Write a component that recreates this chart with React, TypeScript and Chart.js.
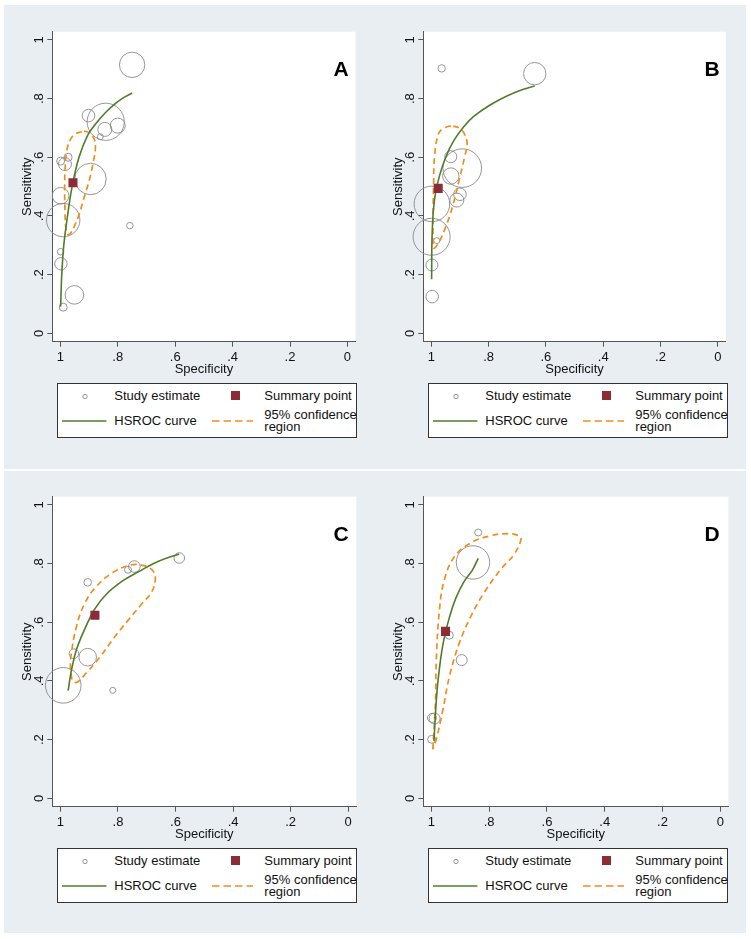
import React, { useEffect, useRef } from 'react';
import { Chart, registerables } from 'chart.js';

Chart.register(...registerables);

const FONT = "'Liberation Sans', Arial, Helvetica, sans-serif";
const GREEN = '#4e7d2b';
const ORANGE = '#f28d1c';
const MAROON = '#8c2c36';
const CIRCLE = '#8a8a8a';
const AXIS = '#555555';
const PANEL_BG = '#e8eef1';

const tickValues = [0, 0.2, 0.4, 0.6, 0.8, 1];
const tickLabels = ['0', '.2', '.4', '.6', '.8', '1'];

// ---------- Panel A ----------
const aStudySpec = [0.750, 0.902, 0.842, 0.845, 0.800, 0.861, 0.999, 0.973, 0.984, 0.895, 0.999, 0.990, 0.758, 0.999, 0.998, 0.951, 0.990];
const aStudySens = [0.915, 0.742, 0.721, 0.695, 0.708, 0.670, 0.587, 0.600, 0.577, 0.526, 0.469, 0.386, 0.367, 0.278, 0.237, 0.131, 0.089];
const aStudySize = [12.7, 6.3, 18.6, 7, 7.5, 3, 4, 4, 6.5, 15.7, 8.3, 16.7, 3.3, 3.3, 6.2, 9.3, 4];
const aSummary = [0.956, 0.513];
const aCurveSpec = [0.999, 0.995, 0.988, 0.975, 0.959, 0.935, 0.905, 0.876, 0.845, 0.815, 0.785, 0.750];
const aCurveSens = [0.091, 0.200, 0.300, 0.400, 0.500, 0.600, 0.675, 0.715, 0.750, 0.778, 0.800, 0.819];
const aRegionSpec = [0.925, 0.948, 0.965, 0.977, 0.983, 0.985, 0.984, 0.981, 0.975, 0.965, 0.950, 0.935, 0.915, 0.897, 0.884, 0.878, 0.882, 0.895, 0.910, 0.925];
const aRegionSens = [0.687, 0.680, 0.660, 0.625, 0.570, 0.500, 0.420, 0.360, 0.337, 0.340, 0.368, 0.405, 0.470, 0.530, 0.590, 0.630, 0.662, 0.680, 0.688, 0.687];

// ---------- Panel B ----------
const bStudySpec = [0.964, 0.639, 0.932, 0.892, 0.932, 0.900, 0.911, 0.998, 0.999, 0.981, 0.998, 0.997];
const bStudySens = [0.903, 0.885, 0.602, 0.563, 0.536, 0.474, 0.454, 0.441, 0.329, 0.316, 0.233, 0.125];
const bStudySize = [3.7, 11.2, 6, 19.3, 8.2, 6.3, 7, 17.8, 18.5, 3, 6, 6.3];
const bSummary = [0.976, 0.494];
const bCurveSpec = [0.999, 0.997, 0.989, 0.972, 0.949, 0.920, 0.886, 0.852, 0.795, 0.738, 0.681, 0.639];
const bCurveSens = [0.184, 0.341, 0.455, 0.535, 0.602, 0.659, 0.705, 0.739, 0.778, 0.808, 0.831, 0.843];
const bRegionSpec = [0.932, 0.955, 0.975, 0.989, 0.992, 0.994, 0.994, 0.992, 0.975, 0.954, 0.926, 0.903, 0.884, 0.875, 0.886, 0.903, 0.932];
const bRegionSens = [0.707, 0.700, 0.680, 0.600, 0.508, 0.405, 0.330, 0.290, 0.308, 0.352, 0.432, 0.522, 0.600, 0.648, 0.682, 0.700, 0.707];

// ---------- Panel C ----------
const cStudySpec = [0.587, 0.743, 0.765, 0.905, 0.953, 0.905, 0.990, 0.818];
const cStudySens = [0.819, 0.790, 0.779, 0.736, 0.493, 0.481, 0.385, 0.368];
const cStudySize = [5.3, 5.8, 3.5, 3.8, 4.8, 8.8, 17.8, 3];
const cSummary = [0.880, 0.624];
const cCurveSpec = [0.973, 0.961, 0.944, 0.916, 0.882, 0.842, 0.785, 0.729, 0.661, 0.587];
const cCurveSens = [0.367, 0.439, 0.507, 0.575, 0.643, 0.694, 0.740, 0.772, 0.807, 0.833];
const cRegionSpec = [0.960, 0.965, 0.962, 0.944, 0.916, 0.876, 0.820, 0.757, 0.706, 0.678, 0.670, 0.683, 0.717, 0.762, 0.813, 0.864, 0.910, 0.944, 0.960];
const cRegionSens = [0.405, 0.450, 0.493, 0.586, 0.663, 0.721, 0.768, 0.795, 0.792, 0.775, 0.748, 0.703, 0.663, 0.610, 0.548, 0.480, 0.427, 0.395, 0.405];

// ---------- Panel D ----------
const dStudySpec = [0.838, 0.856, 0.938, 0.895, 0.989, 0.998, 0.999];
const dStudySens = [0.906, 0.804, 0.556, 0.471, 0.272, 0.274, 0.201];
const dStudySize = [3.5, 16.7, 4, 5.5, 5.5, 4.5, 4];
const dSummary = [0.951, 0.569];
const dCurveSpec = [0.991, 0.985, 0.977, 0.960, 0.937, 0.915, 0.886, 0.858, 0.838];
const dCurveSens = [0.195, 0.303, 0.401, 0.525, 0.619, 0.683, 0.740, 0.778, 0.818];
const dRegionSpec = [0.995, 0.989, 0.985, 0.983, 0.972, 0.955, 0.920, 0.863, 0.795, 0.738, 0.698, 0.690, 0.715, 0.761, 0.818, 0.863, 0.903, 0.937, 0.960, 0.983, 0.995];
const dRegionSens = [0.167, 0.269, 0.360, 0.472, 0.643, 0.745, 0.824, 0.871, 0.895, 0.902, 0.895, 0.881, 0.830, 0.779, 0.700, 0.621, 0.530, 0.418, 0.303, 0.201, 0.167];

const legendLabels = ['Study estimate', 'Summary point', 'HSROC curve', '95% confidence', 'region'];

type PanelProps = {
  letter: string;
  left: number;
  top: number;
  studySpec: number[];
  studySens: number[];
  studySize: number[];
  summary: number[];
  curveSpec: number[];
  curveSens: number[];
  regionSpec: number[];
  regionSens: number[];
};

const W = 371;
const H = 464;

const plotBg = {
  id: 'plotBg',
  beforeDraw(chart: any) {
    const { ctx, chartArea } = chart;
    ctx.save();
    ctx.fillStyle = '#ffffff';
    ctx.fillRect(chartArea.left, chartArea.top, chartArea.right - chartArea.left, chartArea.bottom - chartArea.top);
    ctx.restore();
  },
};

function zip(xs: number[], ys: number[]) {
  return xs.map((x, i) => ({ x, y: ys[i] }));
}

function Panel(p: PanelProps) {
  const ref = useRef<HTMLCanvasElement | null>(null);
  useEffect(() => {
    const chart = new Chart(ref.current as HTMLCanvasElement, {
      type: 'scatter',
      data: {
        datasets: [
          {
            label: 'Summary point',
            data: [{ x: p.summary[0], y: p.summary[1] }],
            pointStyle: 'rect',
            pointRadius: 6.4,
            backgroundColor: MAROON,
            borderColor: MAROON,
            borderWidth: 0,
            order: 0,
          },
          {
            label: 'HSROC curve',
            data: zip(p.curveSpec, p.curveSens),
            showLine: true,
            pointRadius: 0,
            borderColor: GREEN,
            borderWidth: 1.6,
            tension: 0.4,
            order: 1,
          },
          {
            label: '95% confidence region',
            data: zip(p.regionSpec, p.regionSens),
            showLine: true,
            pointRadius: 0,
            borderColor: ORANGE,
            borderWidth: 1.7,
            borderDash: [6, 4],
            tension: 0.4,
            order: 2,
          },
          {
            label: 'Study estimate',
            data: zip(p.studySpec, p.studySens),
            pointRadius: p.studySize,
            pointHoverRadius: p.studySize,
            backgroundColor: 'rgba(0,0,0,0)',
            borderColor: CIRCLE,
            borderWidth: 0.9,
            clip: false,
            order: 3,
          },
        ] as any,
      },
      options: {
        animation: false,
        responsive: false,
        events: [],
        layout: { padding: { left: 0, top: 26.7, right: 12.7, bottom: 92.2 } },
        plugins: { legend: { display: false }, tooltip: { enabled: false } },
        scales: {
          x: {
            type: 'linear',
            min: -0.028,
            max: 1.028,
            reverse: true,
            afterBuildTicks: (s: any) => {
              s.ticks = tickValues.map((v) => ({ value: v }));
            },
            afterFit: (s: any) => {
              s.height = 35.1;
            },
            ticks: {
              callback: (_v: any, i: number) => tickLabels[i] ?? '',
              font: { family: FONT, size: 13 },
              color: '#111111',
              padding: 2.5,
              maxRotation: 0,
              minRotation: 0,
              autoSkip: false,
            },
            grid: { drawOnChartArea: false, tickLength: 5, color: AXIS, lineWidth: 1 },
            border: { display: true, color: AXIS, width: 1 },
            title: {
              display: true,
              text: 'Specificity',
              font: { family: FONT, size: 13 },
              color: '#111111',
              padding: { top: 0, bottom: 0 },
            },
          },
          y: {
            type: 'linear',
            min: -0.0286,
            max: 1.028,
            afterBuildTicks: (s: any) => {
              s.ticks = tickValues.map((v) => ({ value: v }));
            },
            afterFit: (s: any) => {
              s.width = 48.3;
            },
            ticks: {
              callback: (_v: any, i: number) => tickLabels[i] ?? '',
              font: { family: FONT, size: 13 },
              color: '#111111',
              padding: 2.5,
              minRotation: 90,
              maxRotation: 90,
              crossAlign: 'center',
              autoSkip: false,
            },
            grid: { drawOnChartArea: false, tickLength: 5, color: AXIS, lineWidth: 1 },
            border: { display: true, color: AXIS, width: 1 },
            title: {
              display: true,
              text: 'Sensitivity',
              font: { family: FONT, size: 13 },
              color: '#111111',
              padding: { top: 15.2, bottom: 0 },
            },
          },
        },
      } as any,
      plugins: [plotBg],
    });
    return () => chart.destroy();
  }, []);

  const textStyle: React.CSSProperties = {
    position: 'absolute',
    fontFamily: FONT,
    fontSize: 13,
    lineHeight: '15px',
    color: '#111',
    whiteSpace: 'nowrap',
  };

  return (
    <div style={{ position: 'absolute', left: p.left, top: p.top, width: W, height: H }}>
      <canvas ref={ref} width={W} height={H} style={{ position: 'absolute', left: 0, top: 0, width: W, height: H }} />
      <div
        style={{
          position: 'absolute',
          left: 337,
          top: 63,
          transform: 'translate(-50%, -50%)',
          fontFamily: FONT,
          fontWeight: 'bold',
          fontSize: 21,
          lineHeight: '21px',
          color: '#000',
        }}
      >
        {p.letter}
      </div>
      <div
        style={{
          position: 'absolute',
          left: 53,
          top: 378,
          width: 300,
          height: 55,
          boxSizing: 'border-box',
          border: '1px solid #333',
          background: '#fff',
        }}
      >
        <svg style={{ position: 'absolute', left: 22, top: 8 }} width={10} height={10}>
          <circle cx={5} cy={4.5} r={2.2} fill="none" stroke={CIRCLE} strokeWidth={0.9} />
        </svg>
        <div style={{ ...textStyle, left: 56.3, top: 4 }}>{legendLabels[0]}</div>
        <div style={{ position: 'absolute', left: 172.5, top: 7.3, width: 9, height: 9, background: MAROON }} />
        <div style={{ ...textStyle, left: 206.3, top: 4 }}>{legendLabels[1]}</div>
        <svg style={{ position: 'absolute', left: 4.3, top: 34.7 }} width={45} height={4}>
          <line x1={0} y1={2} x2={44.4} y2={2} stroke={GREEN} strokeWidth={1.6} />
        </svg>
        <div style={{ ...textStyle, left: 56.3, top: 28.7 }}>{legendLabels[2]}</div>
        <svg style={{ position: 'absolute', left: 154.3, top: 34.7 }} width={42} height={4}>
          <line x1={0} y1={2} x2={41} y2={2} stroke={ORANGE} strokeWidth={1.7} strokeDasharray="7.5 4" />
        </svg>
        <div style={{ ...textStyle, left: 206.3, top: 22.7 }}>{legendLabels[3]}</div>
        <div style={{ ...textStyle, left: 206.3, top: 35.3 }}>{legendLabels[4]}</div>
      </div>
    </div>
  );
}

export default function App() {
  return (
    <div style={{ position: 'absolute', left: 0, top: 0, width: 751, height: 939, background: '#ffffff', overflow: 'hidden' }}>
      <div style={{ position: 'absolute', left: 4, top: 5, width: 742, height: 464, background: PANEL_BG }} />
      <div style={{ position: 'absolute', left: 4, top: 471, width: 742, height: 462, background: PANEL_BG }} />
      <Panel letter="A" left={4} top={5} studySpec={aStudySpec} studySens={aStudySens} studySize={aStudySize} summary={aSummary}
        curveSpec={aCurveSpec} curveSens={aCurveSens} regionSpec={aRegionSpec} regionSens={aRegionSens} />
      <Panel letter="B" left={375} top={5} studySpec={bStudySpec} studySens={bStudySens} studySize={bStudySize} summary={bSummary}
        curveSpec={bCurveSpec} curveSens={bCurveSens} regionSpec={bRegionSpec} regionSens={bRegionSens} />
      <Panel letter="C" left={4} top={470} studySpec={cStudySpec} studySens={cStudySens} studySize={cStudySize} summary={cSummary}
        curveSpec={cCurveSpec} curveSens={cCurveSens} regionSpec={cRegionSpec} regionSens={cRegionSens} />
      <Panel letter="D" left={375} top={470} studySpec={dStudySpec} studySens={dStudySens} studySize={dStudySize} summary={dSummary}
        curveSpec={dCurveSpec} curveSens={dCurveSens} regionSpec={dRegionSpec} regionSens={dRegionSens} />
    </div>
  );
}
